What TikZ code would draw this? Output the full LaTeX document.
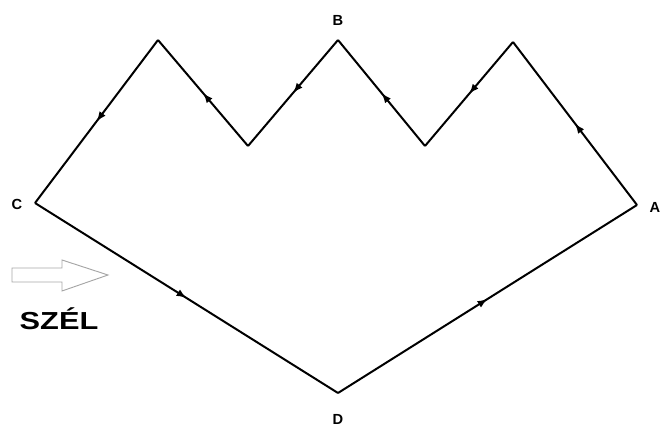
\documentclass[tikz,border=0pt]{standalone}
\usepackage{fontspec}
\setmainfont{Liberation Sans}
\usetikzlibrary{arrows.meta,decorations.markings}

\tikzset{
  side/.style={line width=1.7pt,line join=miter,
    postaction={decorate,decoration={markings,
      mark=at position 0.5 with {\arrow{Latex[length=8.5pt,width=6.5pt]}}}}},
  corner/.style={font=\bfseries\fontsize{12.5}{12.5}\selectfont,inner sep=1pt}
}

\begin{document}
\begin{tikzpicture}[x=0.03cm,y=-0.03cm]
  \useasboundingbox (0,0) rectangle (664,430);
  \coordinate (A) at (637,205);
  \coordinate (P3) at (513,42);
  \coordinate (V2) at (425,146);
  \coordinate (B) at (338,40);
  \coordinate (V1) at (248,146);
  \coordinate (P1) at (158,40);
  \coordinate (C) at (35,203);
  \coordinate (D) at (338,393);

  \foreach \s/\t in {A/P3,P3/V2,V2/B,B/V1,V1/P1,P1/C,C/D,D/A}
    \draw[side] (\s) -- (\t);

  \node[corner] (la) at (655,207) {A};
  \node[corner] (lb) at (338,20) {B};
  \node[corner] (lc) at (17,204) {C};
  \node[corner] (ld) at (338,419) {D};

  % wind
  \draw[gray!70,line width=0.8pt,line join=miter]
    (12,268) -- (62,268) -- (62,260) -- (108,275) -- (62,291) -- (62,282) -- (12,282) -- cycle;
  \node[font=\bfseries\fontsize{21}{21}\selectfont] (wind) at (59,319) {\scalebox{1.25}[1]{SZÉL}};
\end{tikzpicture}
\end{document}
